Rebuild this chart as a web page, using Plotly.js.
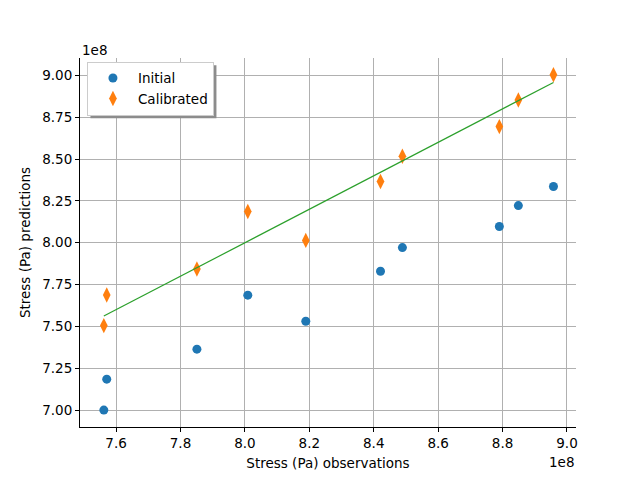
<!DOCTYPE html>
<html><head><meta charset="utf-8">
<script src="https://cdn.plot.ly/plotly-3.0.1.min.js"></script>
<style>body{margin:0;background:#fff}#c{width:640px;height:480px}</style>
</head><body><div id="c"></div>
<script>
const SCALE = 1e8;
const observations = [7.562e8, 7.571e8, 7.851e8, 8.009e8, 8.189e8, 8.421e8, 8.489e8, 8.790e8, 8.849e8, 8.958e8];
const initialPred = [7.000e8, 7.185e8, 7.364e8, 7.687e8, 7.531e8, 7.830e8, 7.971e8, 8.097e8, 8.222e8, 8.336e8];
const calibratedPred = [7.505e8, 7.688e8, 7.843e8, 8.187e8, 8.014e8, 8.366e8, 8.517e8, 8.694e8, 8.853e8, 9.004e8];
const xTicks = [7.6, 7.8, 8.0, 8.2, 8.4, 8.6, 8.8, 9.0];
const yTicks = [7.00, 7.25, 7.50, 7.75, 8.00, 8.25, 8.50, 8.75, 9.00];

const sx = observations.map(v => v / SCALE);
const lineX = [Math.min(...sx), Math.max(...sx)];
const font = {family: 'DejaVu Sans', size: 13.5, color: '#000'};

const traces = [
  {x: sx, y: initialPred.map(v => v / SCALE), mode: 'markers', type: 'scatter', name: 'Initial',
   marker: {color: '#1f77b4', size: 9, symbol: 'circle'}},
  {x: sx, y: calibratedPred.map(v => v / SCALE), mode: 'markers', type: 'scatter', name: 'Calibrated',
   marker: {color: '#ff7f0e', size: 11, symbol: 'diamond-tall'}},
  {x: lineX, y: lineX, mode: 'lines', type: 'scatter', showlegend: false,
   line: {color: '#2ca02c', width: 1.2}}
];

const axisCommon = {
  showgrid: true, gridcolor: '#b0b0b0', gridwidth: 1, zeroline: false,
  ticks: 'outside', ticklen: 4, tickwidth: 1, tickcolor: '#000',
  showline: true, linecolor: '#000', linewidth: 1, mirror: false,
  tickfont: font
};

const layout = {
  width: 640, height: 480,
  margin: {l: 80, r: 64, t: 58, b: 53},
  paper_bgcolor: '#fff', plot_bgcolor: '#fff',
  font: font,
  showlegend: true,
  legend: {x: 0.014, y: 0.99, xanchor: 'left', yanchor: 'top', bgcolor: '#fff',
           bordercolor: '#cccccc', borderwidth: 1, font: font, tracegroupgap: 0,
           itemwidth: 40},
  xaxis: Object.assign({}, axisCommon, {range: [7.488, 9.028], tickvals: xTicks,
    ticktext: xTicks.map(v => v.toFixed(1)),
    title: {text: 'Stress (Pa) observations', font: font, standoff: 8}}),
  yaxis: Object.assign({}, axisCommon, {range: [6.899, 9.104], tickvals: yTicks,
    ticktext: yTicks.map(v => v.toFixed(2)),
    title: {text: 'Stress (Pa) predictions', font: font, standoff: 8}}),
  annotations: [
    {text: '1e8', xref: 'paper', yref: 'paper', x: 0, y: 1, xanchor: 'left', yanchor: 'bottom',
     yshift: -2, showarrow: false, font: font},
    {text: '1e8', xref: 'paper', yref: 'paper', x: 1, y: 0, xanchor: 'right', yanchor: 'top',
     yshift: -25, showarrow: false, font: font}
  ]
};
Plotly.newPlot('c', traces, layout, {staticPlot: true}).then(gd => {
  const bg = gd.querySelector('.legend .bg');
  if (!bg) return;
  const r = bg.getBoundingClientRect();
  const c = gd.getBoundingClientRect();
  const L = 80, T = 58, W = 496, H = 369, off = 3;
  const px = x => (x - c.left - L) / W;
  const py = y => 1 - (y - c.top - T) / H;
  Plotly.relayout(gd, {shapes: [
    {type: 'rect', xref: 'paper', yref: 'paper',
     x0: px(r.left + off), x1: px(r.right + off), y0: py(r.bottom + off), y1: py(r.top + off),
     fillcolor: '#8c8c8c', line: {width: 0}, layer: 'above'}
  ]});
});
</script></body></html>
